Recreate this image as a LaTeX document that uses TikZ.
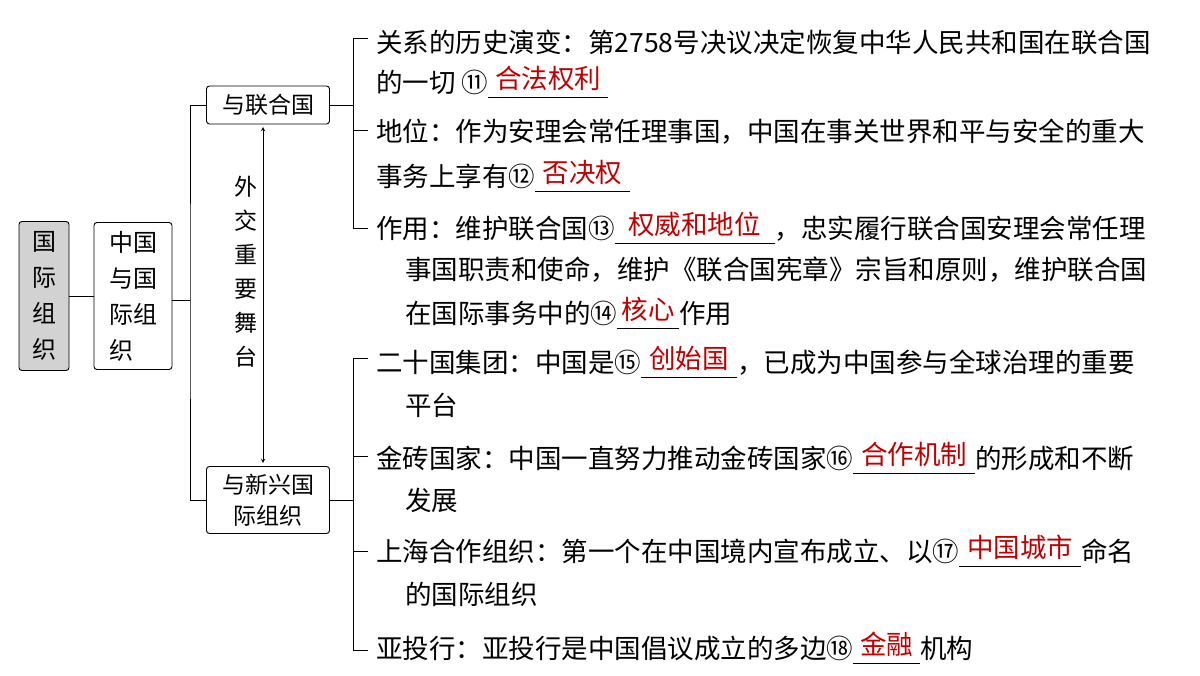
\documentclass[tikz,border=0pt]{standalone}
\usepackage{fontspec}
\setmainfont{Noto Sans CJK SC}
\newcommand\ans[2]{\rlap{\rule[-5pt]{#1}{0.8pt}}\makebox[#1]{\color{red!75!black}\raisebox{4pt}{#2}}}
\tikzset{
 box/.style={draw,rounded corners=3pt,line width=0.9pt,inner sep=0pt},
 txt/.style={anchor=west,inner sep=0pt,font=\fontsize{26.5}{30}\selectfont},
 ln/.style={line width=0.9pt}
}
\begin{document}
\begin{tikzpicture}[x=1pt,y=-1pt]
\useasboundingbox (0,0) rectangle (1200,676);
\node[box,fill=gray!35,minimum width=50pt,minimum height=149pt] (g) at (44,296) {};
\node[font=\fontsize{24}{36}\selectfont,align=center] at (g) {国\\际\\组\\织};
\node[box,minimum width=78pt,minimum height=147pt] (c) at (133,296) {};
\node[font=\fontsize{24}{36}\selectfont,align=left] at (c) {中国\\与国\\际组\\织};
\node[box,minimum width=123pt,minimum height=38pt,font=\fontsize{23}{25}\selectfont] (u) at (268,105) {与联合国};
\node[box,minimum width=123pt,minimum height=67pt,font=\fontsize{23}{31}\selectfont,align=center] (x) at (268,500) {与新兴国\\际组织};
\draw[ln] (g.east) -- (c.west);
\coordinate (b0) at (190,300);
\draw[ln] (c.east |- b0) -- (b0);
\draw[ln] (u.west) -| (b0) |- (x.west);
\draw[ln,<->,>=stealth] (263,127) -- (263,463);
\node[font=\fontsize{23}{34}\selectfont,align=center] at (246,272) {外\\交\\重\\要\\舞\\台};
\coordinate (r1) at (353,105);
\draw[ln] (u.east) -- (r1);
\draw[ln] (368,38) -- (353,38) -- (353,228) -- (368,228);
\draw[ln] (353,130) -- (368,130);
\coordinate (r2) at (353,500);
\draw[ln] (x.east) -- (r2);
\draw[ln] (368,358) -- (353,358) -- (353,650) -- (368,650);
\draw[ln] (353,456) -- (368,456);
\draw[ln] (353,551) -- (368,551);
\node[txt] at (376,42) {关系的历史演变：第2758号决议决定恢复中华人民共和国在联合国};
\node[txt] at (376,82) {的一切 ⑪\ans{120pt}{合法权利}};
\node[txt] at (376,132) {地位：作为安理会常任理事国，中国在事关世界和平与安全的重大};
\node[txt] at (376,176) {事务上享有⑫\ans{95pt}{否决权}};
\node[txt] at (376,228) {作用：维护联合国⑬\ans{160pt}{权威和地位}，忠实履行联合国安理会常任理};
\node[txt] at (405,270) {事国职责和使命，维护《联合国宪章》宗旨和原则，维护联合国};
\node[txt] at (405,313) {在国际事务中的⑭\ans{62pt}{核心}作用};
\node[txt] at (376,362) {二十国集团：中国是⑮\ans{96pt}{创始国}，已成为中国参与全球治理的重要};
\node[txt] at (405,405) {平台};
\node[txt] at (376,458) {金砖国家：中国一直努力推动金砖国家⑯\ans{122pt}{合作机制}的形成和不断};
\node[txt] at (405,500) {发展};
\node[txt] at (376,551) {上海合作组织：第一个在中国境内宣布成立、以⑰\ans{122pt}{中国城市}命名};
\node[txt] at (405,594) {的国际组织};
\node[txt] at (376,648) {亚投行：亚投行是中国倡议成立的多边⑱\ans{67pt}{金融}机构};
\end{tikzpicture}
\end{document}
